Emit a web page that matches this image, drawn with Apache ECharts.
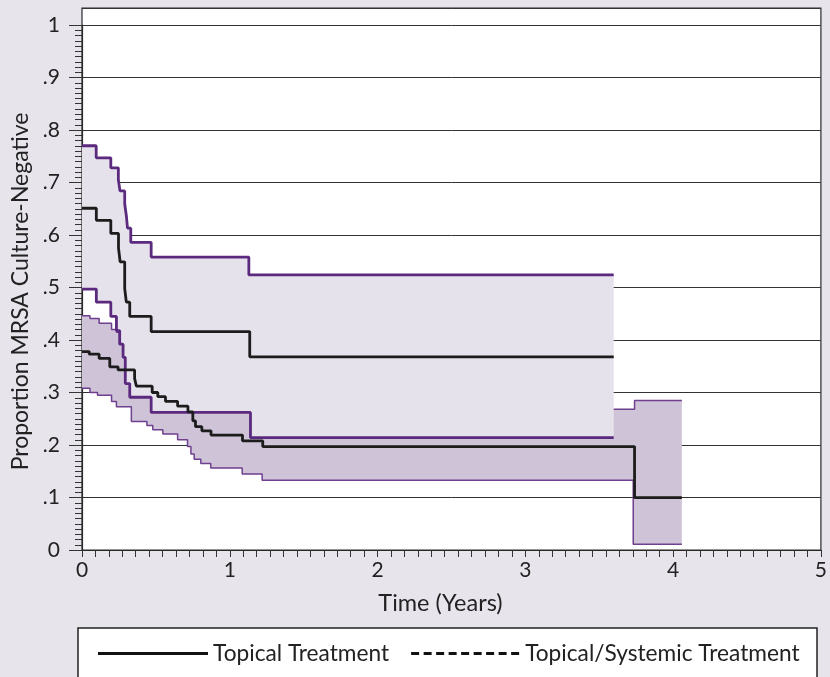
<!DOCTYPE html>
<html><head><meta charset="utf-8">
<script src="https://cdn.jsdelivr.net/npm/echarts@6/dist/echarts.min.js"></script>
<style>html,body{margin:0;padding:0;background:#e7e4ec;} #c{width:830px;height:677px;}</style>
</head><body><div id="c"></div>
<script>
// ---- data ----
const xTickLabels = ['0', '1', '2', '3', '4', '5'];
const yTickLabels = ['0', '.1', '.2', '.3', '.4', '.5', '.6', '.7', '.8', '.9', '1'];
const seriesNames = ['Topical Treatment', 'Topical/Systemic Treatment'];

// Topical treatment: survival estimate and confidence bounds (last point = end of follow-up)
const topicalTimes  = [0, 0.097, 0.195, 0.247, 0.258, 0.289, 0.300, 0.323, 0.468, 1.135, 3.598];
const topicalValues = [0.651, 0.628, 0.603, 0.575, 0.549, 0.498, 0.472, 0.445, 0.416, 0.368, 0.368];
const topicalUpperTimes  = [0, 0.096, 0.195, 0.246, 0.257, 0.289, 0.300, 0.308, 0.330, 0.468, 1.129, 3.598];
const topicalUpperValues = [0.770, 0.747, 0.728, 0.705, 0.684, 0.659, 0.637, 0.613, 0.586, 0.558, 0.524, 0.524];
const topicalLowerTimes  = [0, 0.097, 0.195, 0.233, 0.255, 0.278, 0.293, 0.323, 0.468, 1.140, 3.598];
const topicalLowerValues = [0.497, 0.472, 0.445, 0.418, 0.392, 0.367, 0.317, 0.291, 0.262, 0.214, 0.214];

// Topical/Systemic treatment
const systemicTimes  = [0, 0.049, 0.116, 0.188, 0.244, 0.356, 0.368, 0.475, 0.513, 0.565, 0.647, 0.717, 0.750, 0.768, 0.811, 0.873, 1.086, 1.223, 3.739, 4.059];
const systemicValues = [0.378, 0.373, 0.365, 0.349, 0.343, 0.327, 0.312, 0.300, 0.292, 0.283, 0.274, 0.263, 0.246, 0.235, 0.227, 0.219, 0.208, 0.197, 0.0997, 0.0997];
const systemicUpperTimes  = [0, 0.054, 0.116, 0.200, 0.233, 0.255, 0.356, 0.368, 0.475, 0.513, 0.565, 0.647, 0.717, 0.750, 0.768, 0.811, 0.873, 1.086, 1.223, 3.739, 4.059];
const systemicUpperValues = [0.446, 0.441, 0.432, 0.420, 0.415, 0.405, 0.388, 0.372, 0.360, 0.352, 0.342, 0.333, 0.322, 0.305, 0.296, 0.288, 0.280, 0.275, 0.268, 0.285, 0.285];
const systemicLowerTimes  = [0, 0.054, 0.105, 0.200, 0.233, 0.334, 0.439, 0.479, 0.547, 0.647, 0.714, 0.737, 0.759, 0.804, 0.871, 1.084, 1.219, 3.730, 4.059];
const systemicLowerValues = [0.308, 0.300, 0.295, 0.283, 0.273, 0.245, 0.237, 0.229, 0.221, 0.210, 0.197, 0.183, 0.173, 0.165, 0.156, 0.145, 0.133, 0.011, 0.011];

// ---- helpers ----
function zip(t, v) { return t.map((x, i) => [x, v[i]]); }
function stepPts(t, v) {
  const pts = [];
  for (let i = 0; i < t.length; i++) {
    pts.push([t[i], v[i]]);
    if (i < t.length - 1) pts.push([t[i + 1], v[i]]);
  }
  return pts;
}
function bandRenderer(upT, upV, loT, loV, fill) {
  return function (params, api) {
    const up = stepPts(upT, upV);
    const lo = stepPts(loT, loV).reverse();
    const points = up.concat(lo).map(p => api.coord(p));
    return { type: 'polygon', shape: { points: points }, style: { fill: fill } };
  };
}
function stepLine(name, t, v, color, width, z) {
  return {
    name: name, type: 'line', step: 'end', symbol: 'none', showSymbol: false,
    data: zip(t, v), z: z, silent: true, animation: false,
    lineStyle: { color: color, width: width }, itemStyle: { color: color }
  };
}

const font = 'Lato';
const txt = '#222';
const gridLine = '#333';
const thickPurple = '#5b2a7e';
const thinPurple = '#6f3f90';

// dashed legend icon
let dashPath = 'path://';
for (let i = 0; i < 9; i++) { const x0 = i * 12.5; dashPath += 'M' + x0 + ',0h8v3h-8z '; }

const chart = echarts.init(document.getElementById('c'), null, { renderer: 'canvas' });
const plotTop = 8, plotBottom = 127, yPx = 525; // 1.0 spans 525px
const yTop = (677 - plotBottom - plotTop) / yPx;

chart.setOption({
  backgroundColor: '#e7e4ec',
  animation: false,
  textStyle: { fontFamily: font },
  grid: [
    { left: 82, right: 4, top: plotTop, bottom: plotBottom, show: true, backgroundColor: '#fff', borderColor: '#2a2a2a', borderWidth: 1.2 },
    { left: 82, right: 4, top: 677 - plotBottom - yPx, bottom: plotBottom, show: false }
  ],
  xAxis: [
    {
      gridIndex: 0, type: 'value', min: 0, max: 5, interval: 1,
      axisLine: { show: true, lineStyle: { color: '#2a2a2a', width: 1.2 } },
      axisTick: { show: true, inside: false, length: 7, lineStyle: { color: '#333' } },
      minorTick: { show: true, splitNumber: 11, length: 7, lineStyle: { color: '#333' } },
      splitLine: { show: false },
      axisLabel: { formatter: v => xTickLabels[Math.round(v)], fontSize: 21, margin: 10, color: txt, fontFamily: font, showMaxLabel: true, showMinLabel: true },
      name: 'Time (Years)', nameLocation: 'middle', nameGap: 41,
      nameTextStyle: { fontSize: 23.5, color: txt, fontFamily: font, padding: [0, 22, 0, 0] }
    },
    { gridIndex: 1, type: 'value', min: 0, max: 5, show: false }
  ],
  yAxis: [
    {
      gridIndex: 0, type: 'value', min: 0, max: yTop, interval: 0.1,
      axisLine: { show: false }, axisTick: { show: false }, axisLabel: { show: false },
      splitLine: { show: true, lineStyle: { color: gridLine, width: 1 } }
    },
    {
      gridIndex: 1, type: 'value', min: 0, max: 1, interval: 0.1,
      axisLine: { show: true, lineStyle: { color: '#2a2a2a', width: 1.2 } },
      axisTick: { show: true, inside: false, length: 13, lineStyle: { color: '#333' } },
      minorTick: { show: true, splitNumber: 10, length: 7, lineStyle: { color: '#333' } },
      splitLine: { show: false },
      axisLabel: { formatter: v => yTickLabels[Math.round(v * 10)], fontSize: 21, margin: 22, color: txt, fontFamily: font },
      name: 'Proportion MRSA Culture-Negative', nameLocation: 'middle', nameGap: 47, nameRotate: 90,
      nameTextStyle: { fontSize: 23, color: txt, fontFamily: font, padding: [0, 8, 0, 0] }
    }
  ],
  legend: {
    data: [
      { name: seriesNames[0], icon: 'rect', itemStyle: { color: '#111' } },
      { name: seriesNames[1], icon: dashPath, itemStyle: { color: '#111' } }
    ],
    left: 98, top: 642, itemWidth: 110, itemHeight: 3, itemGap: 22, padding: 0, z: 10,
    selectedMode: false,
    textStyle: { fontSize: 22.7, color: txt, fontFamily: font }
  },
  graphic: [
    { type: 'rect', shape: { x: 78, y: 628, width: 739, height: 70 }, style: { fill: '#fff', stroke: '#222', lineWidth: 1.5 }, z: 0, silent: true }
  ],
  series: [
    { type: 'custom', xAxisIndex: 0, yAxisIndex: 0, data: [[0, 0]], silent: true, z: 1,
      renderItem: bandRenderer(systemicUpperTimes, systemicUpperValues, systemicLowerTimes, systemicLowerValues, '#cfc3d7') },
    stepLine('sysUpper', systemicUpperTimes, systemicUpperValues, thinPurple, 1.5, 2),
    stepLine('sysLower', systemicLowerTimes, systemicLowerValues, thinPurple, 1.5, 2),
    { type: 'custom', xAxisIndex: 0, yAxisIndex: 0, data: [[0, 0]], silent: true, z: 3,
      renderItem: bandRenderer(topicalUpperTimes, topicalUpperValues, topicalLowerTimes, topicalLowerValues, '#e6e2ec') },
    stepLine('topUpper', topicalUpperTimes, topicalUpperValues, thickPurple, 2.8, 4),
    stepLine('topLower', topicalLowerTimes, topicalLowerValues, thickPurple, 2.8, 4),
    stepLine(seriesNames[0], topicalTimes, topicalValues, '#1c1c1c', 2.8, 5),
    stepLine(seriesNames[1], systemicTimes, systemicValues, '#1c1c1c', 2.8, 6)
  ]
});
</script>
</body></html>
